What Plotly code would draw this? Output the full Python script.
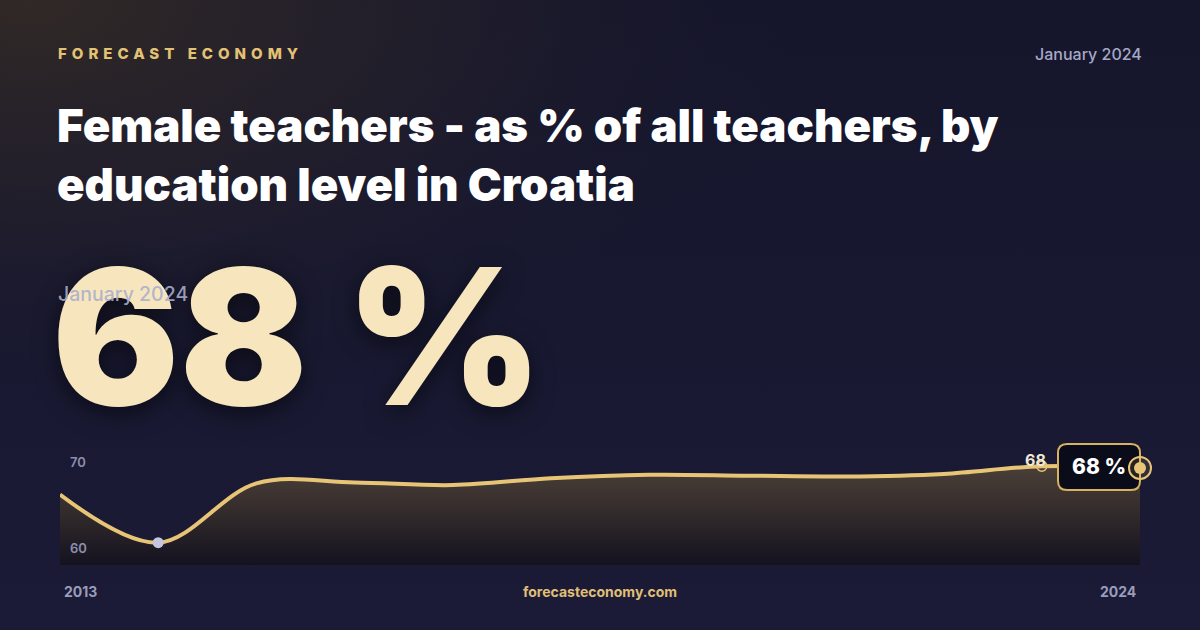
import base64
import plotly.graph_objects as go

# ---- data ----
years = [2013, 2014, 2015, 2016, 2017, 2018, 2019, 2020, 2021, 2022, 2023, 2024]
values = [64.7, 59.1, 66.0, 66.1, 65.8, 66.6, 67.0, 66.9, 66.8, 67.1, 68.0, 67.8]
y_ticks = [60, 70]
brand = "FORECAST ECONOMY"
date_label = "January 2024"
title_text = "Female teachers - as % of all teachers, by<br>education level in Croatia"
headline = "68 %"
site = "forecasteconomy.com"

W, H = 1200, 630
GOLD = "#e8c576"
Y0, Y1 = 56.5, 72.0
# plot area in pixels (years[0] at PX0, years[-1] at PX1, with PAD px of room on the right)
PX0, PX1, PAD = 60, 1140, 20
PY_TOP, PY_BOT = 431.8, 565
x_pad = PAD * (years[-1] - years[0]) / (PX1 - PX0)

def px(x):
    return x / W

def py(y):
    return 1 - y / H

# background as an svg image
svg = f'''<svg xmlns="http://www.w3.org/2000/svg" width="{W}" height="{H}">
<defs>
<linearGradient id="b" x1="0" y1="0" x2="0" y2="1">
<stop offset="0" stop-color="#15152b"/><stop offset="1" stop-color="#1b1b37"/>
</linearGradient>
<radialGradient id="g" cx="0" cy="0" r="1" gradientUnits="userSpaceOnUse" gradientTransform="translate(30 0) scale(820 420)">
<stop offset="0" stop-color="#312926" stop-opacity="1"/>
<stop offset="0.5" stop-color="#25212b" stop-opacity="0.7"/>
<stop offset="1" stop-color="#16172d" stop-opacity="0"/>
</radialGradient>
</defs>
<rect width="{W}" height="{H}" fill="url(#b)"/>
<rect width="{W}" height="{H}" fill="url(#g)"/>
</svg>'''
bg_uri = "data:image/svg+xml;base64," + base64.b64encode(svg.encode()).decode()

fig = go.Figure()

# baseline for fill
fig.add_trace(go.Scatter(x=[years[0], years[-1]], y=[Y0, Y0], mode="lines",
                         line=dict(width=0, color="rgba(0,0,0,0)"),
                         hoverinfo="skip", showlegend=False))
fig.add_trace(go.Scatter(
    x=years, y=values, mode="lines",
    line=dict(color=GOLD, width=4, shape="spline", smoothing=1.0),
    fill="tonexty",
    fillgradient=dict(type="vertical", start=Y0, stop=68.0,
                      colorscale=[[0, "rgba(20,18,32,1)"], [0.55, "rgba(52,44,44,1)"], [1, "rgba(74,63,56,1)"]]),
    showlegend=False, hoverinfo="skip"))

# min point
imin = values.index(min(values))
fig.add_trace(go.Scatter(x=[years[imin]], y=[values[imin]], mode="markers",
                         marker=dict(size=11, color="#c3c6de"), showlegend=False, hoverinfo="skip"))
# previous point ring
fig.add_trace(go.Scatter(x=[years[-2]], y=[values[-2]], mode="markers",
                         marker=dict(size=10, color="rgba(0,0,0,0)", line=dict(color=GOLD, width=1.5)),
                         showlegend=False, hoverinfo="skip"))

ann = []
ann.append(dict(x=years[-2], y=values[-2], xref="x", yref="y", text=f"{values[-2]:.0f}",
                showarrow=False, xanchor="right", yanchor="bottom", xshift=6, yshift=-6,
                font=dict(family="Inter", size=16, color="#f1e8d4", weight=700)))

# y tick labels
for t in y_ticks:
    ann.append(dict(x=px(68), y=t, xref="paper", yref="y", text=str(t), showarrow=False,
                    xanchor="left", yanchor="top", yshift=-3,
                    font=dict(family="Inter", size=13, color="#8c8eae", weight=600)))

ann += [
    dict(x=px(56), y=py(53), xref="paper", yref="paper",
         text=f'<span style="letter-spacing:5px">{brand}</span>', showarrow=False,
         xanchor="left", yanchor="middle",
         font=dict(family="Inter", size=15, color="#e3c274", weight=800)),
    dict(x=px(1144), y=py(54), xref="paper", yref="paper", text=date_label, showarrow=False,
         xanchor="right", yanchor="middle",
         font=dict(family="Inter", size=16, color="#a6a8c6", weight=500)),
    dict(x=px(55), y=py(155), xref="paper", yref="paper", text=title_text, showarrow=False,
         xanchor="left", yanchor="middle", align="left",
         font=dict(family="Inter", size=45.5, color="#ffffff", weight=900)),
    dict(x=px(50), y=py(336), xref="paper", yref="paper", text=headline, showarrow=False,
         xanchor="left", yanchor="middle",
         font=dict(family="Inter", size=189, color="#f7e6bd", weight=900,
                   shadow="0px 6px 24px rgba(0,0,0,0.55)")),
    dict(x=px(56), y=py(294), xref="paper", yref="paper", text=date_label, showarrow=False,
         xanchor="left", yanchor="middle",
         font=dict(family="Inter", size=19.5, color="rgba(170,174,205,0.9)", weight=500)),
    dict(x=px(62), y=py(591), xref="paper", yref="paper", text=str(years[0]), showarrow=False,
         xanchor="left", yanchor="middle",
         font=dict(family="Inter", size=14, color="#9a9cba", weight=700)),
    dict(x=px(1138), y=py(591), xref="paper", yref="paper", text=str(years[-1]), showarrow=False,
         xanchor="right", yanchor="middle",
         font=dict(family="Inter", size=14, color="#9a9cba", weight=700)),
    dict(x=0.5, y=py(591), xref="paper", yref="paper", text=site, showarrow=False,
         xanchor="center", yanchor="middle",
         font=dict(family="Inter", size=14, color="#e0bf76", weight=700)),
    dict(x=px(1099), y=py(466), xref="paper", yref="paper", text=headline, showarrow=False,
         xanchor="center", yanchor="middle",
         font=dict(family="Inter", size=21, color="#ffffff", weight=800)),
]

# rounded callout box (paper coords)
bx0, bx1, by0, by1, r = 1058, 1140, 444, 490, 9
def P(x, y):
    return f"{px(x):.5f},{py(y):.5f}"
path = (f"M {P(bx0 + r, by0)} L {P(bx1 - r, by0)} Q {P(bx1, by0)} {P(bx1, by0 + r)} "
        f"L {P(bx1, by1 - r)} Q {P(bx1, by1)} {P(bx1 - r, by1)} "
        f"L {P(bx0 + r, by1)} Q {P(bx0, by1)} {P(bx0, by1 - r)} "
        f"L {P(bx0, by0 + r)} Q {P(bx0, by0)} {P(bx0 + r, by0)} Z")
shapes = [dict(type="path", xref="paper", yref="paper", path=path,
               fillcolor="#0b0c1a", line=dict(color="#d8b35f", width=2), layer="above")]
# last point marker drawn as pixel-sized circles anchored at the data point
for rad, fill, lw in [(11, "rgba(232,197,118,0.12)", 2), (6, GOLD, 0)]:
    shapes.append(dict(type="circle", xref="x", yref="y", xsizemode="pixel", ysizemode="pixel",
                       xanchor=years[-1], yanchor=values[-1], x0=-rad, x1=rad, y0=-rad, y1=rad,
                       fillcolor=fill, line=dict(color=GOLD, width=lw), layer="above"))

fig.update_layout(
    width=W, height=H, margin=dict(l=0, r=0, t=0, b=0),
    paper_bgcolor="#17182e", plot_bgcolor="rgba(0,0,0,0)",
    xaxis=dict(range=[years[0], years[-1] + x_pad], domain=[px(PX0), px(PX1 + PAD)],
               showgrid=False, zeroline=False, showticklabels=False, fixedrange=True),
    yaxis=dict(range=[Y0, Y1], domain=[py(PY_BOT), py(PY_TOP)],
               showgrid=False, zeroline=False, showticklabels=False, fixedrange=True),
    images=[dict(source=bg_uri, xref="paper", yref="paper", x=0, y=1, sizex=1, sizey=1,
                 xanchor="left", yanchor="top", sizing="stretch", layer="below")],
    annotations=ann, shapes=shapes, showlegend=False,
)

fig.write_html("out.html", config={"displayModeBar": False},
               post_script="document.body.style.margin='0';document.body.style.overflow='hidden';")
